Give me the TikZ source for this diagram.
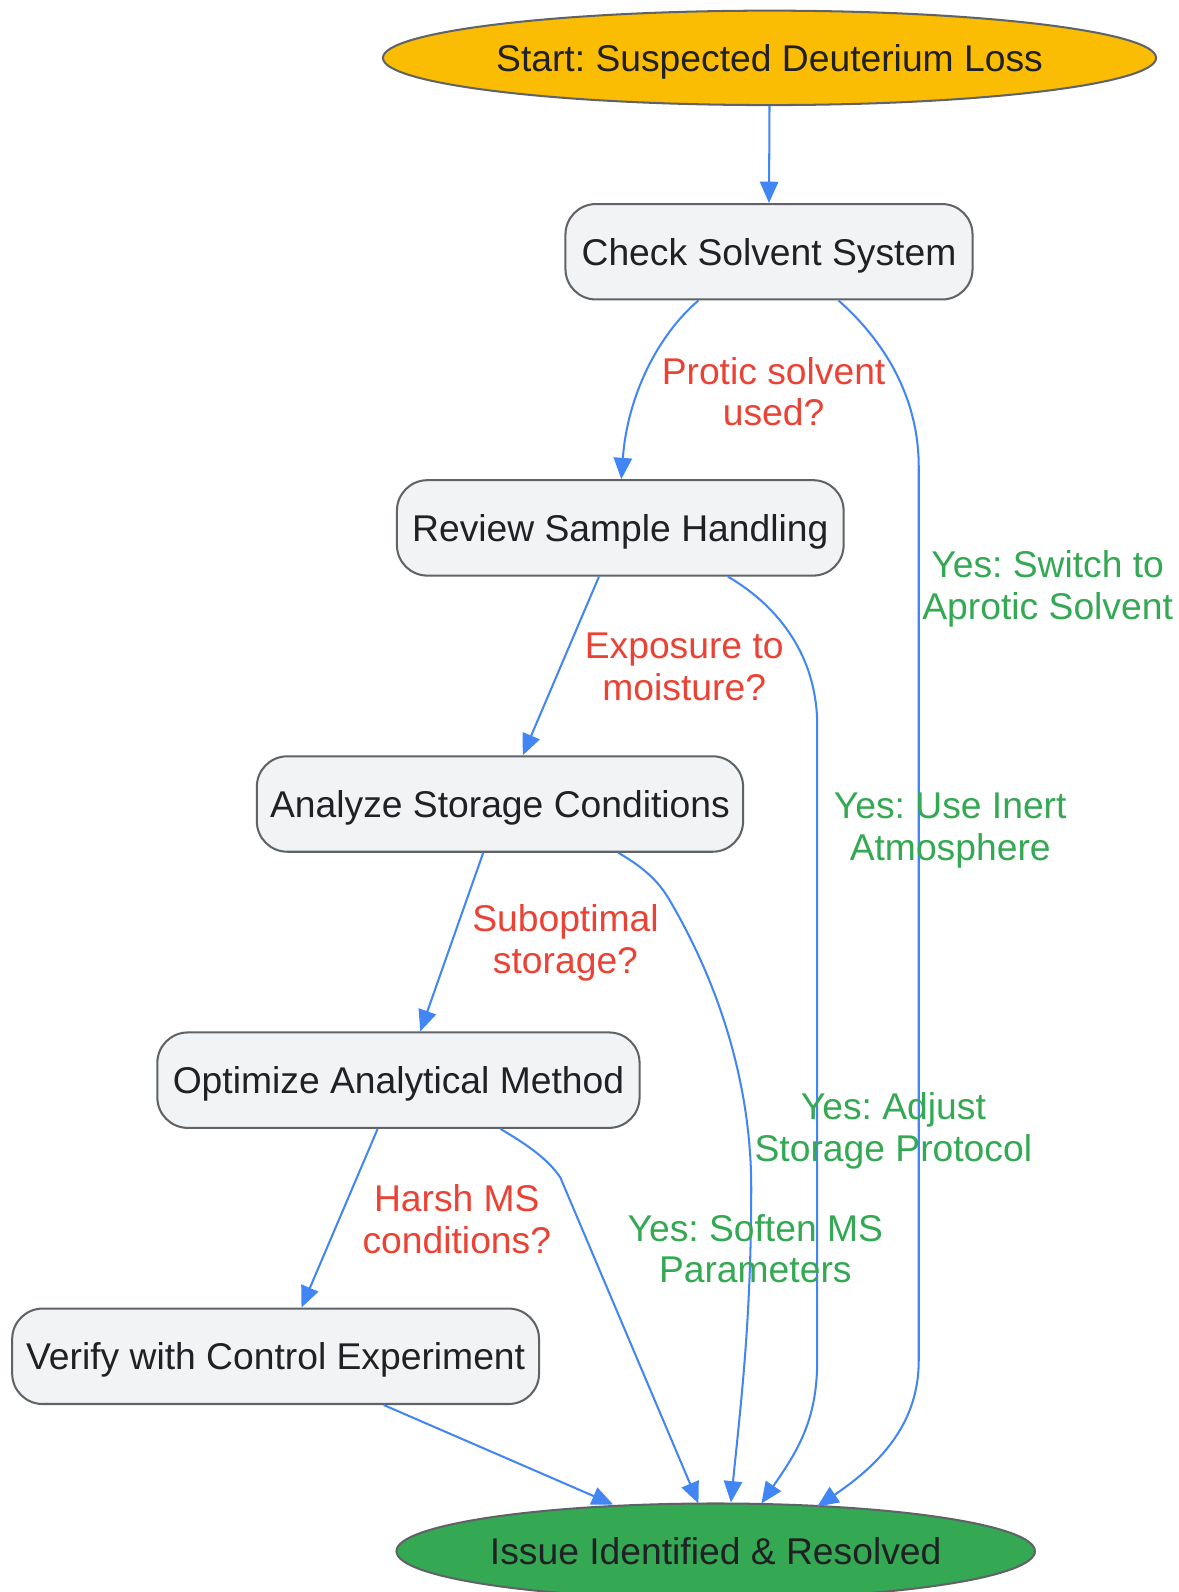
\documentclass[tikz,border=0pt]{standalone}
\usepackage{fontspec}
\setmainfont{Liberation Sans}
\frenchspacing
\usetikzlibrary{shapes.geometric,arrows.meta}
\definecolor{cred}{HTML}{EA4335}
\definecolor{cgreen}{HTML}{34A853}
\definecolor{cblue}{HTML}{4285F4}
\definecolor{cyellow}{HTML}{FBBC04}
\definecolor{cborder}{HTML}{5F6368}
\definecolor{ctext}{HTML}{202124}
\definecolor{cfill}{HTML}{F1F3F4}
\begin{document}
\begin{tikzpicture}[x=1pt,y=-1pt,
  every node/.style={font=\fontsize{36.7}{41}\selectfont, text=ctext},
  stepbox/.style={draw=cborder, line width=2pt, fill=cfill, rounded corners=30pt,
    minimum height=94pt, inner sep=0pt, text depth=0pt, align=center},
  oval/.style={ellipse, draw=cborder, line width=2pt, inner sep=0pt, text depth=0pt, align=center},
  link/.style={draw=cblue, line width=2pt, -{Triangle[length=21pt,width=18pt]}},
  nolab/.style={text=cred, align=center},
  yeslab/.style={text=cgreen, align=center}]
\useasboundingbox (0,0) rectangle (1160.4,1568.2);
\fill[white] (0,0) rectangle (1160.4,1568.2);

\node[oval, fill=cyellow, minimum width=750pt, minimum height=93pt] (start) at (758,57) {Start: Suspected Deuterium Loss};
\node[stepbox, minimum width=401pt] (check) at (757.5,248) {Check Solvent System};
\node[stepbox, minimum width=440pt] (review) at (611,520) {Review Sample Handling};
\node[stepbox, minimum width=479pt] (analyze) at (492.5,792) {Analyze Storage Conditions};
\node[stepbox, minimum width=475pt] (optimize) at (392.5,1064) {Optimize Analytical Method};
\node[stepbox, minimum width=519pt] (verify) at (271.5,1336) {Verify with Control Experiment};
\node[oval, fill=cgreen, minimum width=627pt, minimum height=94pt] (end) at (705,1528) {Issue Identified \& Resolved};

% main chain
\draw[link] (start.south) -- (check.north);
\draw[link] ([xshift=-69.5pt]check.south) .. controls (648,330) and (618,390) .. ([xshift=1pt]review.north);
\draw[link] ([xshift=-21pt]review.south) -- ([xshift=22.5pt]analyze.north);
\draw[link] ([xshift=-16.5pt]analyze.south) -- ([xshift=21.5pt]optimize.north);
\draw[link] ([xshift=-20.5pt]optimize.south) -- ([xshift=25.5pt]verify.north);
\draw[link] ([xshift=106.5pt]verify.south) -- ([xshift=-101pt,yshift=-2pt]end.north);

% yes branches
\draw[link] ([xshift=68.5pt]check.south) .. controls (870,335) and (905,390) .. (905,460)
  -- (905,1340) .. controls (905,1400) and (870,1440) .. ([xshift=100pt,yshift=-4pt]end.north);
\draw[link] ([xshift=106pt]review.south) .. controls (760,593) and (805,640) .. (805,715)
  -- (805,1340) .. controls (805,1400) and (785,1430) .. ([xshift=45pt,yshift=-1pt]end.north);
\draw[link] ([xshift=116.5pt]analyze.south) .. controls (635,855) and (648,868) .. (658,884)
  .. controls (715,980) and (740,1080) .. (740,1170)
  .. controls (740,1300) and (730,1380) .. ([xshift=15pt]end.north);
\draw[link] ([xshift=100.5pt]optimize.south) .. controls (520,1128) and (540,1142) .. (552,1160)
  -- ([xshift=-17pt,yshift=-1pt]end.north);

% labels
\node[nolab] (l1) at (762,386) {Protic solvent\\used?};
\node[nolab] (l2) at (674,657) {Exposure to\\moisture?};
\node[nolab] (l3) at (557,929) {Suboptimal\\storage?};
\node[nolab] (l4) at (450,1201) {Harsh MS\\conditions?};
\node[yeslab] (y1) at (1032,580) {Yes: Switch to\\Aprotic Solvent};
\node[yeslab] (y2) at (936,818) {Yes: Use Inert\\Atmosphere};
\node[yeslab] (y3) at (880,1114) {Yes: Adjust\\Storage Protocol};
\node[yeslab] (y4) at (744,1230) {Yes: Soften MS\\Parameters};
\end{tikzpicture}
\end{document}
